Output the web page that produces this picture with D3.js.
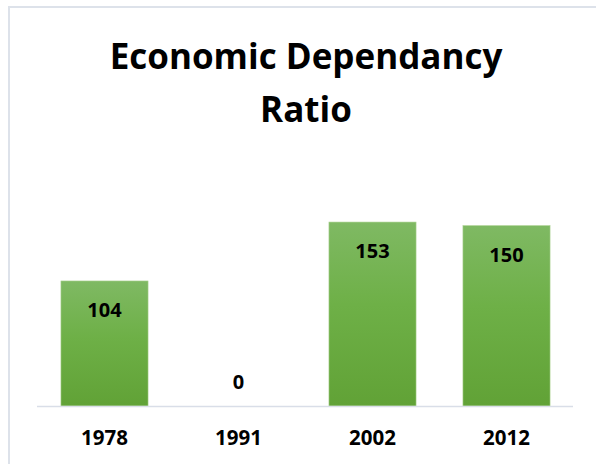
<!DOCTYPE html>
<html>
<head>
<meta charset="utf-8">
<script src="https://cdn.jsdelivr.net/npm/d3@7"></script>
<style>
  body { margin: 0; background: #fff; }
  svg { display: block; }
  .title { font-family: "Open Sans", sans-serif; font-weight: bold; font-size: 35px; fill: #000; }
  .val { font-family: "Open Sans", sans-serif; font-weight: bold; font-size: 20px; fill: #000; }
  .tick text { font-family: "Open Sans", sans-serif; font-weight: bold; font-size: 20.5px; fill: #000; }
</style>
</head>
<body>
<svg></svg>
<script>
const years = ["1978", "1991", "2002", "2012"];
const ratios = [104, 0, 153, 150];
const titleLines = ["Economic Dependancy", "Ratio"];

const svg = d3.select("svg")
  .attr("width", 596)
  .attr("height", 464);

// light frame of the chart area (runs off the right/bottom edge)
svg.append("rect")
  .attr("x", 9).attr("y", 7)
  .attr("width", 620).attr("height", 500)
  .style("fill", "none")
  .style("stroke", "#dde2ea")
  .style("stroke-width", 2);

const grad = svg.append("defs").append("linearGradient")
  .attr("id", "barFill")
  .attr("x1", 0).attr("y1", 0).attr("x2", 0).attr("y2", 1);
grad.append("stop").attr("offset", "0%").attr("stop-color", "#7fb963");
grad.append("stop").attr("offset", "45%").attr("stop-color", "#6eb047");
grad.append("stop").attr("offset", "100%").attr("stop-color", "#61a236");

svg.selectAll("text.title")
  .data(titleLines)
  .enter()
  .append("text")
  .attr("class", "title")
  .attr("x", 306)
  .attr("y", (d, i) => 69 + i * 53)
  .attr("text-anchor", "middle")
  .text(d => d);

const x = d3.scaleBand()
  .domain(years)
  .range([37.5, 573.5])
  .paddingInner(0.35)
  .paddingOuter(0.175);

const y = d3.scaleLinear()
  .domain([0, 180])
  .range([406, 189.6]);

svg.selectAll("rect.bar")
  .data(ratios)
  .enter()
  .append("rect")
  .attr("class", "bar")
  .attr("x", (d, i) => x(years[i]))
  .attr("y", d => y(d))
  .attr("width", x.bandwidth())
  .attr("height", d => y(0) - y(d))
  .style("fill", "url(#barFill)")
  .style("stroke", "#a9d08e")
  .style("stroke-width", 0.6);

svg.selectAll("text.val")
  .data(ratios)
  .enter()
  .append("text")
  .attr("class", "val")
  .attr("x", (d, i) => x(years[i]) + x.bandwidth() / 2)
  .attr("y", d => d === 0 ? y(0) - 17 : y(d) + 36)
  .attr("text-anchor", "middle")
  .text(d => d);

const axis = svg.append("g")
  .attr("transform", `translate(0, ${y(0)})`)
  .call(d3.axisBottom(x).tickSize(0).tickPadding(24));

axis.select(".domain")
  .attr("d", "M37,0.5H573")
  .style("stroke", "#d9dee8")
  .style("stroke-width", 1.5);

axis.selectAll(".tick text").attr("dy", "0.72em");
</script>
</body>
</html>
